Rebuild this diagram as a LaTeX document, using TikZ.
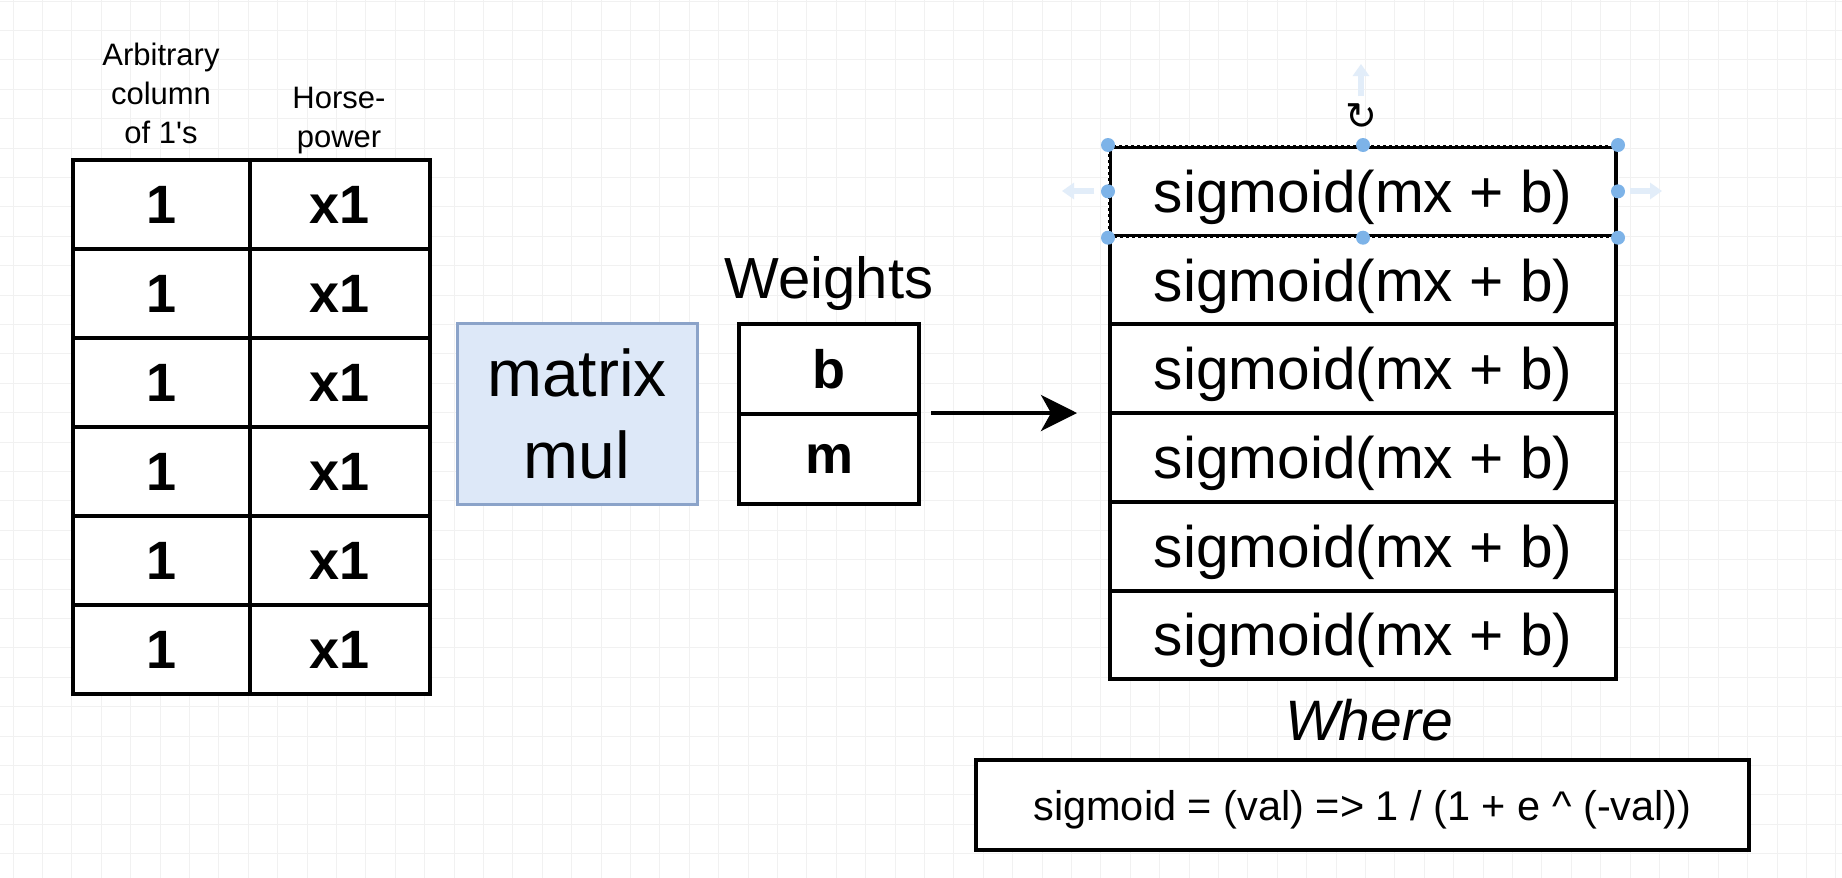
\documentclass[tikz,border=0pt]{standalone}
\usepackage{fontspec}
\setmainfont{Liberation Sans}
\newfontfamily\symfont{DejaVu Sans}
\usetikzlibrary{arrows.meta}
\definecolor{gridc}{HTML}{F1F1F1}
\definecolor{mmfill}{HTML}{DDE8F8}
\definecolor{mmdraw}{HTML}{8BA3C9}
\definecolor{handle}{HTML}{7DB3E8}
\definecolor{ghost}{HTML}{E2EDF9}
\begin{document}
\begin{tikzpicture}[x=1pt,y=-1pt,
  gridline/.style={draw=gridc, line width=1pt},
  lcell/.style={draw, line width=4pt, fill=white, minimum height=89pt, inner sep=0pt,
    font=\fontsize{54}{60}\selectfont\bfseries},
  hdr/.style={align=center, inner sep=0pt, font=\fontsize{31}{39}\selectfont},
  srow/.style={draw, line width=4pt, fill=white, minimum width=506pt, minimum height=88.7pt,
    inner sep=0pt, text height=42pt, text depth=0pt, font=\fontsize{58.6}{66}\selectfont},
  wcell/.style={draw, line width=4pt, fill=white, minimum width=180pt, minimum height=90pt,
    inner sep=0pt, font=\fontsize{54}{60}\selectfont\bfseries},
  mmbox/.style={draw=mmdraw, line width=3pt, fill=mmfill, minimum width=240pt, minimum height=181pt,
    inner sep=0pt, align=center, font=\fontsize{66}{82}\selectfont},
  fbox/.style={draw, line width=4pt, fill=white, minimum width=773pt, minimum height=90pt,
    inner sep=0pt, text height=30pt, text depth=0pt, font=\fontsize{41.5}{48}\selectfont},
  arr/.style={line width=4pt, -{Stealth[length=36pt, width=36pt, inset=10pt]}},
  ghostarr/.style={draw=ghost, line width=6pt, -{Triangle[length=12pt, width=16pt]}}
]
% background and grid
\fill[white] (0,0) rectangle (1842,878);
\useasboundingbox (0,0) rectangle (1842,878);
\foreach \i in {0,...,62} {\draw[gridline] ({13+29.4*\i},0) -- ({13+29.4*\i},878);}
\foreach \j in {0,...,30} {\draw[gridline] (0,{1+29.4*\j}) -- (1842,{1+29.4*\j});}

% left table headers
\node[hdr] (h1) at (161,93) {Arbitrary\\column\\of 1\textquotesingle s};
\node[hdr] (h2) at (339,121) {Horse-\\power};

% left table
\foreach \k in {1,...,6} {
  \node[lcell, minimum width=177pt] (one\k) at (161.5,{115.5+89*\k}) {1};
  \node[lcell, minimum width=180pt] (hp\k) at (340,{115.5+89*\k}) {x1};
}

% matrix mul
\node[mmbox] (mm) at (577,413.5) {matrix\\mul};

% weights
\node[inner sep=0pt, text depth=0pt, font=\fontsize{58}{66}\selectfont] (wl) at (829,277) {Weights};
\node[wcell] (wb) at (829,369) {b};
\node[wcell] (wm) at (829,459) {m};

% sigmoid rows
\foreach \k in {1,...,6} {
  \node[srow] (s\k) at (1363,{102.65+88.7*\k}) {sigmoid(mx + b)};
}

% arrow
\coordinate (a1) at (931,413);
\coordinate (a2) at (1077,413);
\draw[arr] (a1) -- (a2);

% where + formula
\node[inner sep=0pt, font=\fontsize{57}{64}\selectfont\itshape] (wh) at (1369,720) {Where};
\node[fbox] (fm) at (1362.5,805) {sigmoid = (val) => 1 / (1 + e \textasciicircum{} (-val))};

% selection overlay on first row
\draw[white, line width=1pt, dash pattern=on 3pt off 3pt] (s1.north west) rectangle (s1.south east);
\foreach \a in {north west,north,north east,west,east,south west,south,south east} {
  \fill[handle] (s1.\a) circle (7pt);
}
\node[inner sep=0pt, font=\symfont\fontsize{38}{40}\selectfont] (rc) at (1361,117) {↻};
\coordinate (gu1) at (1361,96);
\coordinate (gu2) at (1361,64);
\draw[ghostarr] (gu1) -- (gu2);
\coordinate (gl1) at (1094,191);
\coordinate (gl2) at (1062,191);
\draw[ghostarr] (gl1) -- (gl2);
\coordinate (gr1) at (1630,191);
\coordinate (gr2) at (1662,191);
\draw[ghostarr] (gr1) -- (gr2);
\end{tikzpicture}
\end{document}
